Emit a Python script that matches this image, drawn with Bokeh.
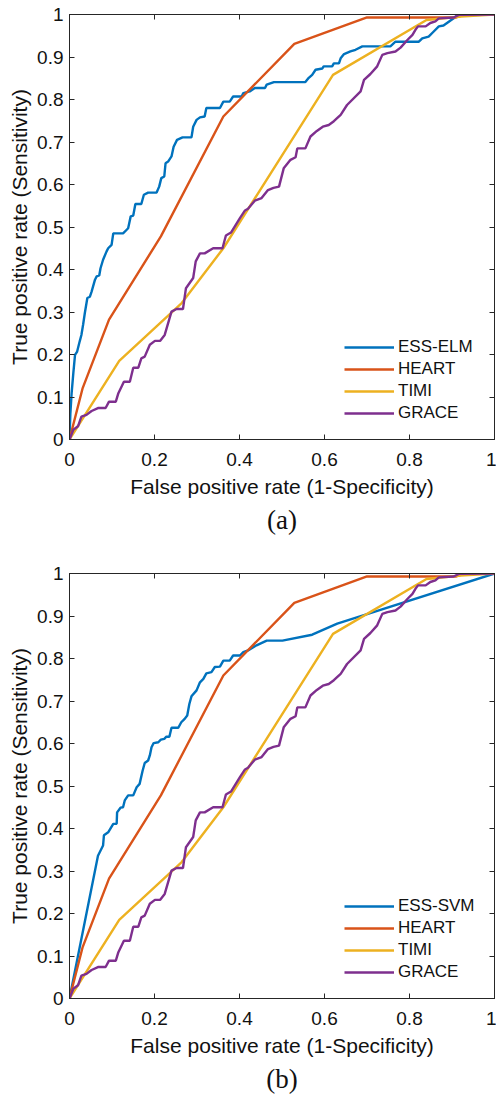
from bokeh.plotting import figure
from bokeh.layouts import column
from bokeh.models import (LinearAxis, Title, Legend, LegendItem, FixedTicker,
                          Range1d, CustomJSTickFormatter)
from bokeh.embed import file_html
from bokeh.resources import INLINE

# ---------------- data ----------------
heart_fpr = [0.0, 0.031, 0.093, 0.215, 0.362, 0.529, 0.700, 0.910, 0.930, 1.0]
heart_tpr = [0.0, 0.121, 0.282, 0.478, 0.760, 0.931, 0.993, 0.993, 1.0, 1.0]

timi_fpr = [0.0, 0.117, 0.264, 0.362, 0.620, 0.840, 0.920, 1.0]
timi_tpr = [0.0, 0.185, 0.321, 0.450, 0.858, 0.987, 0.995, 1.0]

grace_fpr = [0.0, 0.009, 0.020, 0.028, 0.040, 0.052, 0.067, 0.085, 0.093, 0.109,
             0.115, 0.128, 0.142, 0.150, 0.162, 0.169, 0.177, 0.189, 0.201, 0.213,
             0.224, 0.240, 0.252, 0.267, 0.274, 0.291, 0.297, 0.307, 0.318, 0.338,
             0.360, 0.368, 0.380, 0.401, 0.413, 0.420, 0.436, 0.452, 0.467, 0.480,
             0.493, 0.504, 0.520, 0.532, 0.536, 0.555, 0.567, 0.582, 0.596, 0.610,
             0.622, 0.638, 0.653, 0.685, 0.693, 0.708, 0.724, 0.736, 0.748, 0.767,
             0.779, 0.795, 0.807, 0.814, 0.820, 0.838, 0.849, 0.861, 0.869, 0.904,
             0.916, 1.0]
grace_tpr = [0.0, 0.023, 0.031, 0.054, 0.058, 0.067, 0.074, 0.074, 0.089, 0.089,
             0.109, 0.136, 0.136, 0.169, 0.169, 0.191, 0.195, 0.223, 0.232, 0.232,
             0.246, 0.301, 0.307, 0.307, 0.356, 0.380, 0.419, 0.438, 0.438, 0.450,
             0.450, 0.480, 0.487, 0.521, 0.539, 0.543, 0.562, 0.568, 0.587, 0.592,
             0.595, 0.638, 0.658, 0.664, 0.685, 0.685, 0.713, 0.726, 0.736, 0.740,
             0.749, 0.764, 0.787, 0.819, 0.846, 0.860, 0.878, 0.905, 0.909, 0.913,
             0.922, 0.940, 0.952, 0.964, 0.972, 0.972, 0.980, 0.984, 0.991, 0.993,
             0.999, 1.0]

elm_fpr = [0.0, 0.002, 0.005, 0.009, 0.013, 0.018, 0.024, 0.028, 0.032, 0.036,
           0.042, 0.048, 0.052, 0.060, 0.064, 0.070, 0.073, 0.079, 0.087, 0.091,
           0.099, 0.103, 0.126, 0.134, 0.138, 0.144, 0.150, 0.155, 0.169, 0.175,
           0.185, 0.205, 0.211, 0.216, 0.223, 0.226, 0.232, 0.240, 0.245, 0.253,
           0.266, 0.287, 0.291, 0.299, 0.307, 0.318, 0.322, 0.354, 0.362, 0.377,
           0.385, 0.405, 0.409, 0.424, 0.436, 0.460, 0.464, 0.481, 0.555, 0.563,
           0.571, 0.579, 0.595, 0.598, 0.618, 0.622, 0.634, 0.638, 0.646, 0.661,
           0.673, 0.689, 0.755, 0.767, 0.822, 0.830, 0.845, 0.857, 0.869, 0.880,
           0.904, 0.912, 1.0]
elm_tpr = [0.0, 0.060, 0.109, 0.156, 0.199, 0.207, 0.231, 0.246, 0.270, 0.297,
           0.333, 0.336, 0.348, 0.376, 0.384, 0.386, 0.403, 0.423, 0.442, 0.450,
           0.458, 0.485, 0.485, 0.493, 0.497, 0.525, 0.527, 0.554, 0.554, 0.576,
           0.581, 0.581, 0.595, 0.615, 0.619, 0.650, 0.654, 0.666, 0.689, 0.705,
           0.711, 0.711, 0.736, 0.752, 0.758, 0.760, 0.780, 0.780, 0.795, 0.795,
           0.807, 0.807, 0.815, 0.819, 0.827, 0.827, 0.835, 0.841, 0.841, 0.851,
           0.858, 0.870, 0.873, 0.878, 0.878, 0.885, 0.885, 0.897, 0.907, 0.913,
           0.917, 0.925, 0.925, 0.936, 0.936, 0.944, 0.948, 0.960, 0.972, 0.974,
           0.991, 0.998, 1.0]

svm_fpr = [0.0, 0.067, 0.079, 0.081, 0.091, 0.103, 0.111, 0.112, 0.120, 0.126,
           0.130, 0.138, 0.150, 0.158, 0.165, 0.172, 0.177, 0.185, 0.189, 0.193,
           0.198, 0.209, 0.215, 0.223, 0.228, 0.235, 0.240, 0.256, 0.263, 0.271,
           0.277, 0.282, 0.287, 0.299, 0.307, 0.315, 0.322, 0.334, 0.342, 0.354,
           0.362, 0.377, 0.385, 0.401, 0.409, 0.420, 0.440, 0.464, 0.501, 0.571,
           0.630, 1.0]
svm_tpr = [0.0, 0.336, 0.360, 0.384, 0.391, 0.411, 0.411, 0.438, 0.449, 0.450,
           0.466, 0.478, 0.478, 0.497, 0.505, 0.536, 0.554, 0.560, 0.572, 0.591,
           0.601, 0.603, 0.609, 0.611, 0.616, 0.616, 0.637, 0.637, 0.650, 0.658,
           0.666, 0.693, 0.711, 0.725, 0.744, 0.752, 0.765, 0.768, 0.780, 0.781,
           0.795, 0.795, 0.807, 0.807, 0.815, 0.819, 0.831, 0.842, 0.842, 0.856,
           0.882, 1.0]

x_ticks = [0, 0.2, 0.4, 0.6, 0.8, 1]
y_ticks = [0, 0.1, 0.2, 0.3, 0.4, 0.5, 0.6, 0.7, 0.8, 0.9, 1]
x_label = "False positive rate (1-Specificity)"
y_label = "True positive rate (Sensitivity)"

C_BLUE = "#0072BD"
C_ORANGE = "#D95319"
C_YELLOW = "#EDB120"
C_PURPLE = "#7E2F8E"
AX = "#262626"
TXT = "#111111"
FONT = "Liberation Sans"


def style_axis(ax, labels=True):
    ax.axis_line_color = AX
    ax.axis_line_width = 1
    ax.major_tick_line_color = AX
    ax.major_tick_in = 5
    ax.major_tick_out = 0
    ax.minor_tick_line_color = None
    if labels:
        ax.major_label_text_font = FONT
        ax.major_label_text_font_size = "19px"
        ax.major_label_text_color = TXT
        ax.axis_label_text_font = FONT
        ax.axis_label_text_font_size = "21px"
        ax.axis_label_text_font_style = "normal"
        ax.axis_label_text_color = TXT
    else:
        ax.formatter = CustomJSTickFormatter(code="return ''")
        ax.major_label_text_font_size = "1px"
        ax.major_label_standoff = 0


def panel(bx, by, blabel, tag, top, bottom):
    p = figure(frame_width=425, frame_height=425,
               x_range=Range1d(0, 1), y_range=Range1d(0, 1),
               output_backend="svg", toolbar_location=None,
               min_border_left=69, min_border_right=2,
               min_border_top=top, min_border_bottom=bottom)
    p.grid.visible = False
    p.outline_line_color = AX
    p.background_fill_color = "white"
    p.border_fill_color = "white"

    xa = p.xaxis[0]
    ya = p.yaxis[0]
    xa.ticker = FixedTicker(ticks=x_ticks)
    ya.ticker = FixedTicker(ticks=y_ticks)
    xa.major_label_overrides = {0: "0", 1: "1"}
    ya.major_label_overrides = {0: "0", 1: "1"}
    style_axis(xa)
    style_axis(ya)
    xa.axis_label = x_label
    ya.axis_label = y_label
    xa.major_label_standoff = 13
    xa.axis_label_standoff = 6
    ya.major_label_standoff = 6
    ya.axis_label_standoff = 3

    ra = LinearAxis(ticker=FixedTicker(ticks=y_ticks))
    style_axis(ra, labels=False)
    p.add_layout(ra, "right")
    ta = LinearAxis(ticker=FixedTicker(ticks=x_ticks))
    style_axis(ta, labels=False)
    p.add_layout(ta, "above")

    lw = 2.4
    r1 = p.line(bx, by, line_color=C_BLUE, line_width=lw)
    r2 = p.line(heart_fpr, heart_tpr, line_color=C_ORANGE, line_width=lw)
    r3 = p.line(timi_fpr, timi_tpr, line_color=C_YELLOW, line_width=lw)
    r4 = p.line(grace_fpr, grace_tpr, line_color=C_PURPLE, line_width=lw)

    leg = Legend(items=[LegendItem(label=blabel, renderers=[r1]),
                        LegendItem(label="HEART", renderers=[r2]),
                        LegendItem(label="TIMI", renderers=[r3]),
                        LegendItem(label="GRACE", renderers=[r4])],
                 location=(275, 16))
    leg.border_line_color = None
    leg.background_fill_alpha = 0
    leg.padding = 0
    leg.margin = 0
    leg.spacing = 2
    leg.glyph_width = 50
    leg.glyph_height = 20
    leg.label_standoff = 4
    leg.label_text_font = FONT
    leg.label_text_font_size = "17px"
    leg.label_text_color = TXT
    p.add_layout(leg)

    t = Title(text=tag, align="center", text_font="Liberation Serif",
              text_font_size="27px", text_font_style="normal",
              text_color=TXT, standoff=4)
    p.add_layout(t, "below")
    return p


p1 = panel(elm_fpr, elm_tpr, "ESS-ELM", "(a)", 14, 100)
p2 = panel(svm_fpr, svm_tpr, "ESS-SVM", "(b)", 34, 86)
lay = column(p1, p2, spacing=0)

open("out.html", "w").write(file_html(lay, INLINE))
